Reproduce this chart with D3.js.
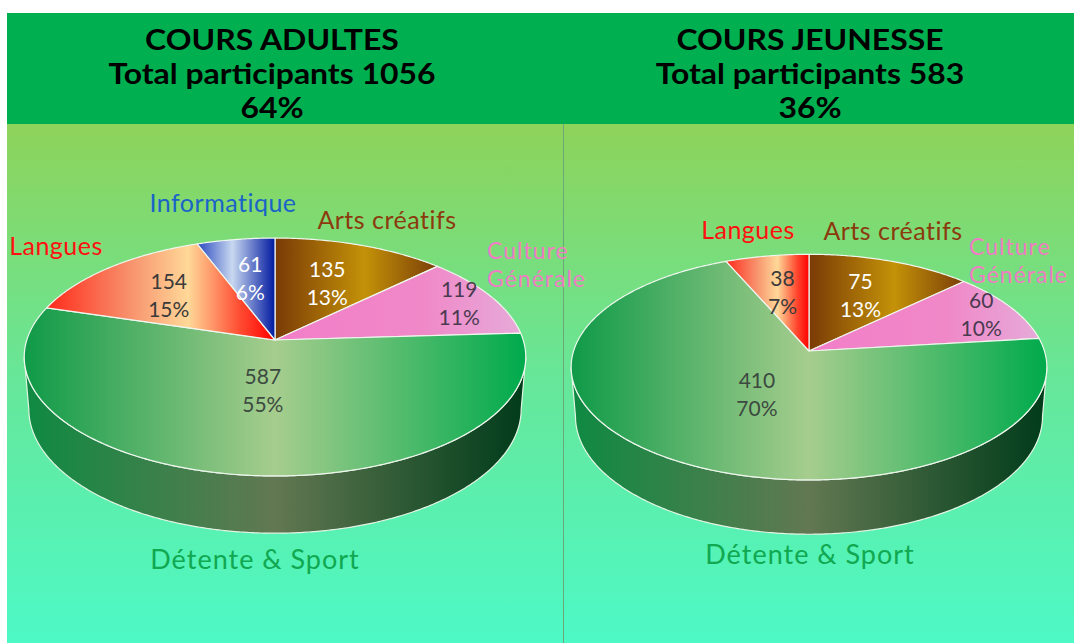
<!DOCTYPE html>
<html lang="fr">
<head>
    <meta charset="UTF-8">
    <title>Cours adultes / jeunesse</title>
    <script src="https://d3js.org/d3.v7.min.js"></script>
    <style>
        body { margin: 0; background: #fff; }
        text { font-family: "Comic Sans MS", Lato, "DejaVu Sans", sans-serif; }
    </style>
</head>
<body>
<script>
    const width = 1074;
    const height = 643;

    // data
    const titles = ["COURS ADULTES", "COURS JEUNESSE"];
    const totals = [1056, 583];
    const shares = ["64%", "36%"];

    const adultCategories = ["Arts créatifs", "Culture Générale", "Détente & Sport", "Langues", "Informatique"];
    const adultValues = [135, 119, 587, 154, 61];
    const adultPercents = ["13%", "11%", "55%", "15%", "6%"];

    const youthCategories = ["Arts créatifs", "Culture Générale", "Détente & Sport", "Langues"];
    const youthValues = [75, 60, 410, 38];
    const youthPercents = ["13%", "10%", "70%", "7%"];

    // styles per category
    const catColor = {
        "Arts créatifs": "#8b3a0e",
        "Culture Générale": "#f07cc4",
        "Détente & Sport": "#10a850",
        "Langues": "#ff1010",
        "Informatique": "#1a64c8"
    };
    const valueColor = {
        "Arts créatifs": "#ffffff",
        "Culture Générale": "#4a3a50",
        "Détente & Sport": "#3c4a40",
        "Langues": "#3a3a3a",
        "Informatique": "#ffffff"
    };
    const gradStops = {
        "Arts créatifs": [[0, "#7a3a06"], [0.55, "#c49208"], [1, "#7a3e08"]],
        "Culture Générale": [[0, "#f27ec8"], [0.6, "#f088c8"], [1, "#e6aad8"]],
        "Langues": [[0, "#ff2a1a"], [0.36, "#f7906c"], [0.62, "#ffd898"], [0.85, "#ff4a30"], [1, "#ff0000"]],
        "Informatique": [[0, "#2a48c0"], [0.45, "#c8d8f0"], [1, "#0018a0"]]
    };

    const svg = d3.select("body").append("svg")
            .attr("width", width).attr("height", height);
    const defs = svg.append("defs");

    // background
    const bg = defs.append("linearGradient").attr("id", "bg")
            .attr("x1", 0).attr("y1", 0).attr("x2", 0).attr("y2", 1);
    bg.append("stop").attr("offset", 0).attr("stop-color", "#8ed35a");
    bg.append("stop").attr("offset", 0.5).attr("stop-color", "#66e79a");
    bg.append("stop").attr("offset", 1).attr("stop-color", "#4df9c6");

    svg.append("rect").attr("x", 7).attr("y", 124).attr("width", width - 7).attr("height", height - 124)
            .style("fill", "url(#bg)");
    svg.append("rect").attr("x", 7).attr("y", 13).attr("width", width - 7).attr("height", 111)
            .style("fill", "#00b050");
    svg.append("line").attr("x1", 563.5).attr("x2", 563.5).attr("y1", 124).attr("y2", height)
            .style("stroke", "#6aa878").style("stroke-width", 1);

    // headers (one text per line, widened to fit the original lettering)
    const headerX = [272, 810];
    titles.forEach(function(t, i) {
        const lines = [t, "Total participants " + totals[i], shares[i]];
        lines.forEach(function(s, j) {
            const txt = svg.append("text")
                    .attr("x", headerX[i]).attr("y", 50 + j * 34)
                    .attr("text-anchor", "middle")
                    .style("font-size", "28px").style("font-weight", "bold").style("fill", "#000")
                    .text(s);
            const w = txt.node().getComputedTextLength();
            txt.attr("textLength", w * 1.14).attr("lengthAdjust", "spacingAndGlyphs");
        });
    });

    // perspective projection of the pie disc
    const tilt = 28 * Math.PI / 180;
    const sinA = Math.sin(tilt), cosA = Math.cos(tilt);
    const dist = 7 * cosA;

    function projector(cx, cy, k) {
        return function(a, r, h) {
            const X = r * Math.sin(a), Z = -r * Math.cos(a), Y = -(h || 0);
            const y = Z * sinA - Y * cosA;
            const z = dist - Z * cosA - Y * sinA;
            return [cx + k * X / z, cy + k * y / z];
        };
    }

    const line = d3.line();

    function arcPoints(proj, a0, a1, h) {
        const n = Math.max(2, Math.ceil((a1 - a0) / 0.01));
        return d3.range(n + 1).map(i => proj(a0 + (a1 - a0) * i / n, 1, h));
    }

    function drawPie(opt) {
        const proj = projector(opt.cx, opt.cy, opt.k);
        const g = svg.append("g");
        const data = opt.categories.map((c, i) => ({cat: c, value: opt.values[i], pct: opt.percents[i]}));
        const arcs = d3.pie().sort(null).value(d => d.value)(data);

        // silhouette of the side
        const samples = d3.range(0, 2 * Math.PI, 0.002);
        const aRight = samples[d3.maxIndex(samples, a => proj(a, 1, 0)[0])];
        const aLeft = samples[d3.minIndex(samples, a => proj(a, 1, 0)[0])];
        const xl = proj(aLeft, 1, 0)[0], xr = proj(aRight, 1, 0)[0];

        // gradients
        const top = defs.append("linearGradient").attr("id", opt.id + "-top")
                .attr("gradientUnits", "userSpaceOnUse")
                .attr("x1", xl).attr("x2", xr).attr("y1", 0).attr("y2", 0);
        [[0, "#0f9a48"], [0.5, "#a6cd8e"], [1, "#00aa4c"]].forEach(s =>
                top.append("stop").attr("offset", s[0]).attr("stop-color", s[1]));
        const side = defs.append("linearGradient").attr("id", opt.id + "-side")
                .attr("gradientUnits", "userSpaceOnUse")
                .attr("x1", xl).attr("x2", xr).attr("y1", 0).attr("y2", 0);
        [[0, "#0e8a42"], [0.5, "#627852"], [0.75, "#2f5a35"], [1, "#003b1a"]].forEach(s =>
                side.append("stop").attr("offset", s[0]).attr("stop-color", s[1]));
        Object.keys(gradStops).forEach(function(c, i) {
            const lg = defs.append("linearGradient").attr("id", opt.id + "-g" + i)
                    .attr("x1", 0).attr("x2", 1).attr("y1", 0).attr("y2", 0);
            gradStops[c].forEach(s => lg.append("stop").attr("offset", s[0]).attr("stop-color", s[1]));
        });
        function fillOf(c, part) {
            if (c === "Détente & Sport") return "url(#" + opt.id + "-" + part + ")";
            return "url(#" + opt.id + "-g" + Object.keys(gradStops).indexOf(c) + ")";
        }

        // sides (front part only)
        arcs.forEach(function(d) {
            const s = Math.max(d.startAngle, aRight), e = Math.min(d.endAngle, aLeft);
            if (e <= s) return;
            const pts = arcPoints(proj, s, e, opt.depth).reverse();
            g.append("path")
                    .attr("d", line(arcPoints(proj, s, e, 0).concat(pts)) + "Z")
                    .style("fill", fillOf(d.data.cat, "side"))
                    .style("stroke", "#e4f4e4").style("stroke-width", 1.2);
        });

        // top slices
        g.selectAll("path.slice").data(arcs).enter().append("path")
                .attr("class", "slice")
                .attr("d", d => line([proj(0, 0, 0)].concat(arcPoints(proj, d.startAngle, d.endAngle, 0))) + "Z")
                .style("fill", d => fillOf(d.data.cat, "top"))
                .style("stroke", "#eef6ee").style("stroke-width", 1.2)
                .style("stroke-linejoin", "round");

        // value labels
        arcs.forEach(function(d) {
            const mid = (d.startAngle + d.endAngle) / 2;
            const p = proj(mid, opt.labelR[d.data.cat], 0);
            g.append("text")
                    .attr("x", p[0]).attr("y", p[1] - 5)
                    .attr("text-anchor", "middle")
                    .style("font-size", "21px")
                    .style("fill", valueColor[d.data.cat])
                    .selectAll("tspan").data([d.data.value, d.data.pct]).enter().append("tspan")
                    .attr("x", p[0]).attr("dy", (t, j) => j ? 28 : 0)
                    .text(t => t);
        });

        // category labels
        arcs.forEach(function(d) {
            const o = opt.catPos[d.data.cat];
            const words = d.data.cat === "Culture Générale" ? ["Culture", "Générale"] : [d.data.cat];
            const big = d.data.cat === "Détente & Sport";
            const two = words.length > 1;
            words.forEach(function(w, j) {
                g.append("text")
                        .attr("x", opt.cx + o[0]).attr("y", opt.cy + o[1] + j * 28)
                        .attr("text-anchor", o[2] || "middle")
                        .style("font-size", big ? "27px" : two ? "23px" : "25px")
                        .style("letter-spacing", big || two ? "1px" : "0.5px")
                        .style("fill", catColor[d.data.cat])
                        .text(w);
            });
        });
    }

    drawPie({
        id: "adult", cx: 275, cy: 340, k: 1534, depth: 0.24,
        categories: adultCategories, values: adultValues, percents: adultPercents,
        labelR: {"Arts créatifs": 0.58, "Culture Générale": 0.85, "Détente & Sport": 0.4, "Langues": 0.62, "Informatique": 0.6},
        catPos: {
            "Informatique": [-52, -128],
            "Arts créatifs": [112, -111],
            "Langues": [-219, -85],
            "Culture Générale": [212, -81, "start"],
            "Détente & Sport": [-20, 229]
        }
    });

    drawPie({
        id: "youth", cx: 809, cy: 351, k: 1455, depth: 0.24,
        categories: youthCategories, values: youthValues, percents: youthPercents,
        labelR: {"Arts créatifs": 0.6, "Culture Générale": 0.85, "Détente & Sport": 0.42, "Langues": 0.6},
        catPos: {
            "Langues": [-61, -112],
            "Arts créatifs": [84, -111],
            "Culture Générale": [160, -96, "start"],
            "Détente & Sport": [1, 213]
        }
    });
</script>
</body>
</html>
